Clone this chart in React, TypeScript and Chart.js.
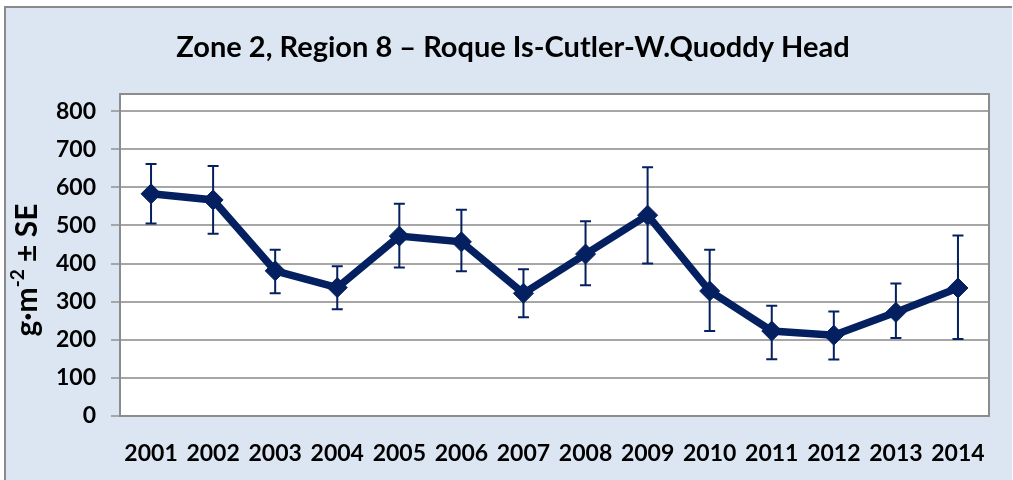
import React, { useEffect, useRef } from "react";
import { Chart, registerables } from "chart.js";

Chart.register(...registerables);

const years = ["2001", "2002", "2003", "2004", "2005", "2006", "2007", "2008", "2009", "2010", "2011", "2012", "2013", "2014"];
const means = [583, 567, 381, 337, 472, 457, 322, 425, 527, 328, 223, 212, 272, 336];
const seUpper = [661, 656, 436, 393, 557, 541, 385, 511, 653, 436, 289, 274, 348, 474];
const seLower = [505, 478, 322, 280, 390, 380, 259, 343, 400, 223, 149, 148, 205, 202];
const yTicks = [0, 100, 200, 300, 400, 500, 600, 700, 800];

const titleText = "Zone 2, Region 8 \u2013 Roque Is-Cutler-W.Quoddy Head";
const NAVY = "#042060";
const FONT = "Lato, 'Liberation Sans', sans-serif";

const framePlugin = {
  id: "frame",
  beforeDraw(chart: any) {
    const ctx = chart.ctx;
    ctx.save();
    ctx.fillStyle = "#ffffff";
    ctx.fillRect(0, 0, chart.width, chart.height);
    ctx.fillStyle = "#dce6f2";
    ctx.fillRect(5, 7, 1007, chart.height - 7);
    ctx.fillStyle = "#8a8a8a";
    ctx.fillRect(5, 6, 1007, 2);
    ctx.fillRect(4, 6, 2, chart.height - 6);
    const a = chart.chartArea;
    ctx.fillStyle = "#ffffff";
    ctx.fillRect(a.left, a.top, a.right - a.left, a.bottom - a.top);
    // title
    ctx.fillStyle = "#000000";
    ctx.font = "bold 29px " + FONT;
    ctx.textAlign = "center";
    ctx.textBaseline = "middle";
    ctx.fillText(titleText, 513, 48);
    // y axis label with superscript
    ctx.translate(27, 270);
    ctx.rotate(-Math.PI / 2);
    const big = "bold 30px " + FONT;
    const small = "bold 19px " + FONT;
    const p1 = "g\u00B7m";
    const p2 = "-2";
    const p3 = " \u00B1 SE";
    ctx.font = big;
    const w1 = ctx.measureText(p1).width;
    const w3 = ctx.measureText(p3).width;
    ctx.font = small;
    const w2 = ctx.measureText(p2).width;
    let x = -(w1 + w2 + w3) / 2;
    ctx.textAlign = "left";
    ctx.textBaseline = "alphabetic";
    ctx.font = big;
    ctx.fillText(p1, x, 10);
    x += w1;
    ctx.font = small;
    ctx.fillText(p2, x, -3);
    x += w2;
    ctx.font = big;
    ctx.fillText(p3, x, 10);
    ctx.restore();
  },
  beforeDatasetsDraw(chart: any) {
    const ctx = chart.ctx;
    const a = chart.chartArea;
    ctx.save();
    ctx.strokeStyle = "#8c8c8c";
    ctx.lineWidth = 2;
    ctx.strokeRect(a.left, a.top, a.right - a.left, a.bottom - a.top);
    const xs = chart.scales.x;
    const ys = chart.scales.y;
    ctx.strokeStyle = NAVY;
    ctx.lineWidth = 2;
    for (let i = 0; i < years.length; i++) {
      const px = xs.getPixelForValue(i);
      const top = ys.getPixelForValue(seUpper[i]);
      const bot = ys.getPixelForValue(seLower[i]);
      ctx.beginPath();
      ctx.moveTo(px, top);
      ctx.lineTo(px, bot);
      ctx.moveTo(px - 5.5, top);
      ctx.lineTo(px + 5.5, top);
      ctx.moveTo(px - 5.5, bot);
      ctx.lineTo(px + 5.5, bot);
      ctx.stroke();
    }
    ctx.restore();
  },
};

export default function App() {
  const ref = useRef<HTMLCanvasElement | null>(null);
  useEffect(() => {
    if (!ref.current) return;
    const chart = new Chart(ref.current, {
      type: "line",
      data: {
        labels: years,
        datasets: [
          {
            data: means,
            borderColor: NAVY,
            backgroundColor: NAVY,
            borderWidth: 7.5,
            pointStyle: "rectRot",
            pointRadius: 10,
            pointBorderWidth: 1,
            pointBackgroundColor: NAVY,
            pointBorderColor: NAVY,
            tension: 0,
          },
        ],
      },
      options: {
        animation: false,
        responsive: false,
        maintainAspectRatio: false,
        layout: { padding: { top: 94, right: 24, left: 0, bottom: 0 } },
        plugins: { legend: { display: false }, title: { display: false }, tooltip: { enabled: false } },
        scales: {
          x: {
            offset: true,
            grid: { display: false, drawTicks: false },
            border: { display: false },
            ticks: { color: "#000", font: { family: FONT, size: 23, weight: "bold" }, padding: 24, maxRotation: 0, autoSkip: false },
            afterFit(s: any) {
              s.height = 64;
            },
          },
          y: {
            min: 0,
            max: 845,
            afterBuildTicks(s: any) {
              s.ticks = yTicks.map((v) => ({ value: v }));
            },
            grid: { color: "#a6a6a6", lineWidth: 2, tickLength: 9, drawTicks: true },
            border: { display: false },
            ticks: { color: "#000", font: { family: FONT, size: 23, weight: "bold" }, padding: 15 },
            afterFit(s: any) {
              s.width = 120;
            },
          },
        },
      },
      plugins: [framePlugin],
    });
    return () => chart.destroy();
  }, []);
  return (
    <div style={{ position: "fixed", left: 0, top: 0, width: 1013, height: 480 }}>
      <canvas ref={ref} width={1013} height={480} style={{ width: 1013, height: 480 }} />
    </div>
  );
}
